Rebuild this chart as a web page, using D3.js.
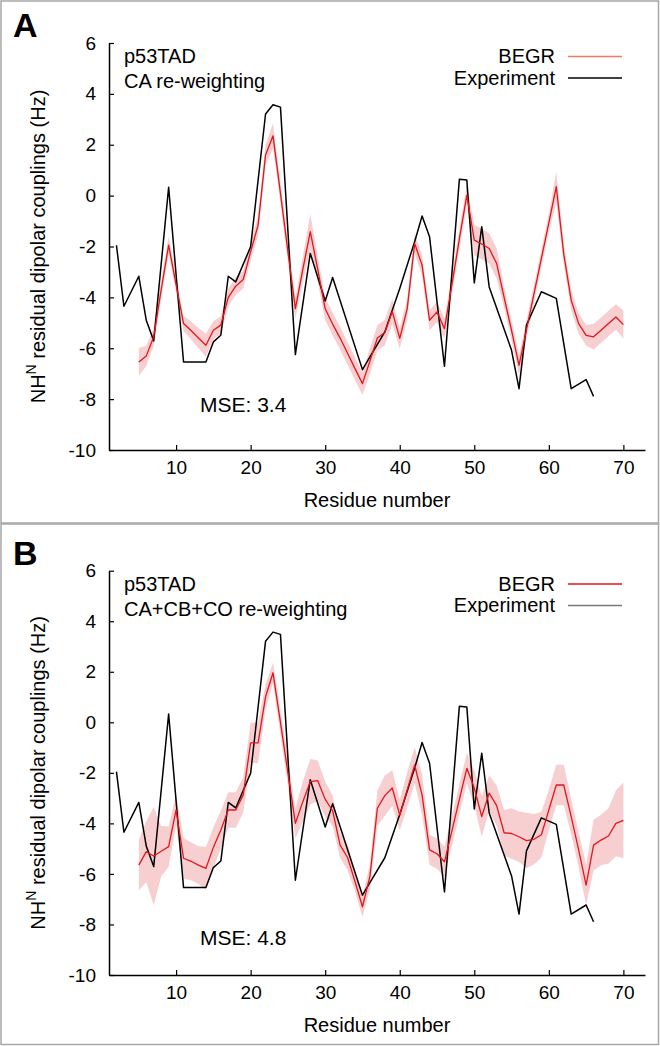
<!DOCTYPE html>
<html><head><meta charset="utf-8">
<script src="https://cdn.jsdelivr.net/npm/d3@7"></script>
<style>
html,body{margin:0;padding:0;background:#fff;}
svg{display:block;font-family:"Liberation Sans",Arial,Helvetica,sans-serif;}
</style></head>
<body><svg id="chart" width="660" height="1046"></svg>
<script>
// ---------- DATA ----------
const xTicks = [10, 20, 30, 40, 50, 60, 70];
const yTicks = [-10, -8, -6, -4, -2, 0, 2, 4, 6];

const expResidues = [2,3,5,6,7,9,11,14,15,16,17,18,20,22,23,24,26,28,30,31,35,36,38,40,42,43,44,46,48,49,50,51,52,55,56,57,59,61,63,65,66];
const expValues   = [-1.95,-4.35,-3.17,-4.9,-5.71,0.33,-6.54,-6.54,-5.75,-5.49,-3.17,-3.39,-2.01,3.21,3.57,3.48,-6.25,-2.27,-4.14,-3.22,-6.84,-6.34,-5.36,-3.65,-1.81,-0.8,-1.62,-6.71,0.64,0.61,-3.43,-1.22,-3.59,-6.08,-7.59,-5.09,-3.78,-4.04,-7.59,-7.23,-7.89];

const begrResidues = d3.range(5, 71);
const begrA = [-6.54,-6.30,-5.55,-3.7,-1.95,-3.5,-5.03,-5.3,-5.6,-5.88,-5.29,-5.09,-4.0,-3.56,-3.3,-2.2,-1.16,1.6,2.35,0.1,-2.2,-4.44,-2.9,-1.42,-2.9,-4.45,-5.05,-5.6,-6.2,-6.8,-7.39,-6.5,-5.6,-5.38,-4.55,-5.61,-4.45,-1.88,-2.74,-4.9,-4.57,-5.23,-3.5,-1.7,0.02,-1.75,-1.9,-2.08,-2.67,-4.0,-5.3,-6.67,-5.27,-3.87,-2.47,-1.07,0.35,-2.3,-4.11,-5.03,-5.49,-5.55,-5.29,-5.03,-4.77,-5.07];
const errA  = [0.55,0.4,0.35,0.35,0.35,0.3,0.3,0.35,0.4,0.45,0.35,0.35,0.35,0.35,0.35,0.35,0.4,0.4,0.5,0.4,0.4,0.4,0.5,0.7,0.5,0.45,0.45,0.45,0.45,0.45,0.45,0.5,0.5,0.5,0.5,0.4,0.4,0.4,0.4,0.4,0.4,0.4,0.4,0.4,0.4,0.6,0.6,0.6,0.6,0.4,0.4,0.4,0.35,0.35,0.35,0.35,0.6,0.4,0.4,0.4,0.4,0.5,0.5,0.5,0.5,0.55];

const begrB = [-5.65,-5.12,-5.29,-5.1,-4.92,-3.47,-5.38,-5.5,-5.65,-5.78,-4.95,-4.26,-3.47,-3.47,-2.88,-0.81,-0.81,1.01,1.96,0.0,-2.0,-4.0,-3.14,-2.35,-2.31,-3.05,-3.5,-4.86,-5.35,-6.3,-7.3,-6.1,-3.4,-2.9,-2.6,-3.67,-2.68,-1.69,-2.88,-5.05,-5.2,-5.52,-4.3,-3.05,-1.82,-2.6,-3.73,-2.8,-3.3,-4.37,-4.4,-4.53,-4.68,-4.63,-4.45,-3.47,-2.48,-2.48,-3.73,-5.05,-6.44,-4.86,-4.66,-4.5,-4.0,-3.88];
const errB  = [1.0,1.2,1.95,1.0,0.8,0.6,0.8,0.75,0.75,0.85,0.8,0.75,0.7,0.7,0.7,0.8,0.8,0.5,0.4,0.5,0.5,0.6,0.8,0.9,0.8,0.7,0.6,0.5,0.5,0.4,0.4,0.5,0.7,0.8,0.7,0.6,0.7,0.7,0.8,0.6,0.6,0.6,0.6,0.6,0.6,0.7,0.8,0.7,0.8,0.9,1.0,1.0,1.1,1.0,0.9,0.8,0.8,0.8,0.7,0.7,0.8,1.0,1.0,1.1,1.3,1.5];

const panelLetters = ["A", "B"];
const subtitles = ["CA re-weighting", "CA+CB+CO re-weighting"];
const mseLabels = ["MSE: 3.4", "MSE: 4.8"];

// ---------- DRAWING ----------
const svg = d3.select("#chart");
const RED = "#e4151b", BAND = "#f8cfd0";

// panel frames
svg.append("rect").attr("x",1).attr("y",1).attr("width",657.5).attr("height",522)
  .attr("fill","none").attr("stroke","#a6a6a6").attr("stroke-width",1.5);
svg.append("rect").attr("x",1).attr("y",524).attr("width",657.5).attr("height",520.5)
  .attr("fill","none").attr("stroke","#a6a6a6").attr("stroke-width",1.5);

const panels = [
  {top:43, bottom:450, off:0, begr:begrA, err:errA, legBegr:"#f07866", legExp:"#000"},
  {top:570.7, bottom:975, off:527.5, begr:begrB, err:errB, legBegr:RED, legExp:"#7a7a7a"}
];

const x = d3.scaleLinear().domain([1, 72.9]).range([109, 645]);
const plainFmt = d => String(d);

panels.forEach((p, i) => {
  const y = d3.scaleLinear().domain([-10, 6]).range([p.bottom, p.top]);
  const g = svg.append("g");

  // band
  const bandData = begrResidues.map((r, k) => ({r, v: p.begr[k], e: p.err[k]}));
  g.append("path").datum(bandData)
    .attr("fill", BAND).attr("stroke","none")
    .attr("d", d3.area().x(d => x(d.r)).y0(d => y(d.v - d.e)).y1(d => y(d.v + d.e)));

  // experiment
  const expData = expResidues.map((r, k) => ({r, v: expValues[k]}));
  g.append("path").datum(expData)
    .attr("fill","none").attr("stroke","#000").attr("stroke-width",1.5).attr("stroke-linejoin","round")
    .attr("d", d3.line().x(d => x(d.r)).y(d => y(d.v)));

  // begr line
  g.append("path").datum(bandData)
    .attr("fill","none").attr("stroke",RED).attr("stroke-width",1.3).attr("stroke-linejoin","round")
    .attr("d", d3.line().x(d => x(d.r)).y(d => y(d.v)));

  // axes
  const xAxis = d3.axisBottom(x).tickValues(xTicks).tickFormat(plainFmt).tickSizeInner(-5).tickSizeOuter(0).tickPadding(11);
  const xg = g.append("g").attr("transform", `translate(0,${p.bottom})`).call(xAxis);
  const yAxis = d3.axisLeft(y).tickValues(yTicks).tickFormat(plainFmt).tickSizeInner(-5).tickSizeOuter(0).tickPadding(13);
  const yg = g.append("g").attr("transform", `translate(109,0)`).call(yAxis);
  [xg, yg].forEach(a => {
    a.select(".domain").attr("stroke","#000").attr("stroke-width",1.5);
    a.selectAll(".tick line").attr("stroke","#000").attr("stroke-width",1.2);
    a.selectAll(".tick text").attr("font-size",19).attr("fill","#000").attr("font-family","Liberation Sans, Arial, sans-serif");
  });

  // axis titles
  g.append("text").attr("x", 377).attr("y", p.bottom + 57).attr("text-anchor","middle")
    .attr("font-size",20).text("Residue number");
  const yt = g.append("text").attr("transform", `translate(45,${(p.top + p.bottom)/2}) rotate(-90)`)
    .attr("text-anchor","middle").attr("font-size",20);
  yt.append("tspan").text("NH");
  yt.append("tspan").attr("font-size",14).attr("dy",-9).text("N");
  yt.append("tspan").attr("dy",9).text(" residual dipolar couplings (Hz)");

  // panel letter
  g.append("text").attr("x", 13).attr("y", 37 + p.off).attr("font-size",34).attr("font-weight","bold")
    .text(panelLetters[i]);

  // annotations
  g.append("text").attr("x",124).attr("y",63 + p.off).attr("font-size",20).text("p53TAD");
  g.append("text").attr("x",124).attr("y",88 + p.off).attr("font-size",20).text(subtitles[i]);
  g.append("text").attr("x",200).attr("y",i===0 ? 412 : 945).attr("font-size",21).text(mseLabels[i]);

  // legend
  const legItems = [["BEGR", p.legBegr, 63], ["Experiment", p.legExp, 84.5]];
  legItems.forEach(([lab, col, by]) => {
    g.append("text").attr("x",555).attr("y",by + p.off).attr("text-anchor","end").attr("font-size",20).text(lab);
    g.append("line").attr("x1",568).attr("x2",622).attr("y1",by - 6.5 + p.off).attr("y2",by - 6.5 + p.off)
      .attr("stroke",col).attr("stroke-width",1.5);
  });
});
</script></body></html>
